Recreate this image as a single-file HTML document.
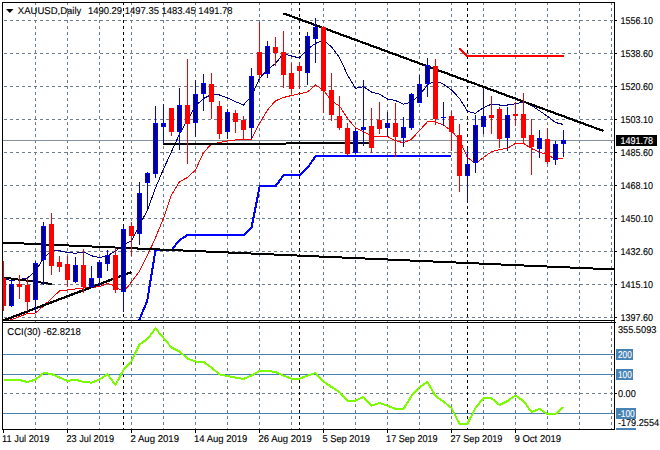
<!DOCTYPE html>
<html><head><meta charset="utf-8"><title>XAUUSD,Daily</title>
<style>
html,body{margin:0;padding:0;background:#fff;}
body{width:660px;height:450px;overflow:hidden;position:relative;font-family:"Liberation Sans",sans-serif;}
svg{position:absolute;left:0;top:0;display:block}
text{font-family:"Liberation Sans",sans-serif;fill:#000}
</style></head><body>
<svg width="660" height="450" viewBox="0 0 660 450">
<rect x="0" y="0" width="660" height="450" fill="#fff"/>

<defs><clipPath id="cm"><rect x="3" y="3" width="611" height="317"/></clipPath><clipPath id="ci"><rect x="3" y="323" width="611" height="106"/></clipPath></defs>
<g shape-rendering="crispEdges" stroke="#6b7d8e" stroke-width="1" stroke-dasharray="3 3" fill="none">
<line x1="4" y1="20.5" x2="614" y2="20.5"/>
<line x1="4" y1="53.5" x2="614" y2="53.5"/>
<line x1="4" y1="86.5" x2="614" y2="86.5"/>
<line x1="4" y1="119.5" x2="614" y2="119.5"/>
<line x1="4" y1="152.5" x2="614" y2="152.5"/>
<line x1="4" y1="185.5" x2="614" y2="185.5"/>
<line x1="4" y1="218.5" x2="614" y2="218.5"/>
<line x1="4" y1="251.5" x2="614" y2="251.5"/>
<line x1="4" y1="284.5" x2="614" y2="284.5"/>
<line x1="4" y1="317.5" x2="614" y2="317.5"/>
<line x1="35.5" y1="2" x2="35.5" y2="430"/>
<line x1="67.5" y1="2" x2="67.5" y2="430"/>
<line x1="99.5" y1="2" x2="99.5" y2="430"/>
<line x1="131.5" y1="2" x2="131.5" y2="430"/>
<line x1="163.5" y1="2" x2="163.5" y2="430"/>
<line x1="195.5" y1="2" x2="195.5" y2="430"/>
<line x1="227.5" y1="2" x2="227.5" y2="430"/>
<line x1="259.5" y1="2" x2="259.5" y2="430"/>
<line x1="291.5" y1="2" x2="291.5" y2="430"/>
<line x1="323.5" y1="2" x2="323.5" y2="430"/>
<line x1="355.5" y1="2" x2="355.5" y2="430"/>
<line x1="387.5" y1="2" x2="387.5" y2="430"/>
<line x1="419.5" y1="2" x2="419.5" y2="430"/>
<line x1="451.5" y1="2" x2="451.5" y2="430"/>
<line x1="483.5" y1="2" x2="483.5" y2="430"/>
<line x1="515.5" y1="2" x2="515.5" y2="430"/>
<line x1="547.5" y1="2" x2="547.5" y2="430"/>
<line x1="579.5" y1="2" x2="579.5" y2="430"/>
<line x1="611.5" y1="2" x2="611.5" y2="430"/>
<line x1="4" y1="393.5" x2="614" y2="393.5"/>
</g>
<g shape-rendering="crispEdges" stroke="#000" stroke-width="1" stroke-dasharray="3 3" fill="none">
<line x1="123.5" y1="2" x2="123.5" y2="430"/>
<line x1="299.5" y1="2" x2="299.5" y2="430"/>
<line x1="467.5" y1="2" x2="467.5" y2="430"/>
</g>
<g clip-path="url(#cm)">
<line x1="3" y1="140.5" x2="614" y2="140.5" stroke="#8391a0" stroke-width="1" shape-rendering="crispEdges"/>
<polyline shape-rendering="crispEdges" fill="none" stroke="#00008b" stroke-width="1" points="3.5,279.0 11.5,280.5 19.5,279.5 27.5,278.0 35.5,271.0 43.5,258.3 51.5,250.5 59.5,250.8 67.5,252.5 75.5,253.3 83.5,252.0 91.5,255.8 99.5,257.5 107.5,255.8 115.5,251.0 123.5,245.0 131.5,240.8 139.5,225.0 147.5,210.0 155.5,188.0 163.5,169.0 171.5,151.7 179.5,134.0 187.5,120.0 195.5,106.0 203.5,98.5 211.5,94.5 219.5,95.0 227.5,98.0 235.5,101.7 243.5,105.0 251.5,96.0 259.5,78.5 267.5,69.5 275.5,63.5 283.5,53.5 291.5,56.0 299.5,58.0 307.5,49.0 315.5,43.5 323.5,40.0 331.5,47.0 339.5,57.5 347.5,75.0 355.5,88.3 363.5,86.7 371.5,92.0 379.5,94.2 387.5,99.0 395.5,100.5 403.5,104.2 411.5,102.0 419.5,95.0 427.5,85.0 435.5,80.8 443.5,84.2 451.5,90.0 459.5,98.3 467.5,111.3 475.5,113.3 483.5,107.5 491.5,104.2 499.5,105.0 507.5,105.0 515.5,103.8 523.5,102.0 531.5,105.5 539.5,110.8 547.5,116.3 555.5,122.5 563.5,124.5"/>
<polyline shape-rendering="crispEdges" fill="none" stroke="#ff0000" stroke-width="1" points="10.5,320 11.5,319.6 19.5,316.5 27.5,313.5 35.5,313.0 43.5,306.0 51.5,298.5 59.5,291.0 67.5,290.0 75.5,289.0 83.5,287.9 91.5,287.3 99.5,286.8 107.5,283.3 115.5,286.3 123.5,292.0 131.5,282.0 139.5,271.0 147.5,255.4 155.5,237.7 163.5,218.3 171.5,195.0 179.5,181.7 187.5,177.5 195.5,170.0 203.5,152.5 211.5,144.0 219.5,142.5 227.5,141.0 235.5,140.0 243.5,139.5 251.5,139.2 259.5,123.3 267.5,110.0 275.5,100.8 283.5,97.5 291.5,95.5 299.5,93.7 307.5,92.0 315.5,85.0 323.5,90.0 331.5,101.0 339.5,106.0 347.5,118.4 355.5,127.8 363.5,131.7 371.5,136.0 379.5,136.5 387.5,136.5 395.5,140.7 403.5,142.8 411.5,139.2 419.5,130.5 427.5,121.7 435.5,122.0 443.5,125.0 451.5,130.8 459.5,140.0 467.5,157.5 475.5,163.3 483.5,157.5 491.5,151.7 499.5,149.7 507.5,148.3 515.5,143.3 523.5,143.3 531.5,148.5 539.5,152.2 547.5,154.7 555.5,159.2 563.5,158.0"/>
<polyline shape-rendering="crispEdges" fill="none" stroke="#0000ff" stroke-width="2.1" stroke-linejoin="round" points="139.0,320.5 147.2,301.0 155.5,250.0 163.7,250.0 171.7,250.0 179.2,240.3 187.7,235.0 243.7,235.0 251.7,227.0 259.7,186.0 275.7,186.0 283.7,175.0 299.7,175.0 307.7,167.6 315.7,156.0 451.2,156.0"/>
<polyline shape-rendering="crispEdges" fill="none" stroke="#ff0000" stroke-width="2.1" stroke-linejoin="miter" points="459.7,48.3 467.2,55.9 564,55.9"/>
<g shape-rendering="crispEdges" stroke="#000" fill="none" stroke-linecap="butt">
<line stroke-width="2" x1="3" y1="242.6" x2="614" y2="269.45"/>
<line stroke-width="2.3" x1="2" y1="321.0" x2="131.6" y2="272.0"/>
<line stroke-width="2" x1="3" y1="277.5" x2="52" y2="284"/>
<line stroke-width="2" x1="163.3" y1="144.4" x2="370" y2="142.9"/>
<line stroke-width="2.2" x1="283.3" y1="13.3" x2="603.5" y2="131"/>
</g>
<g shape-rendering="crispEdges">
<rect x="3" y="261" width="1" height="50" fill="#ff0000"/>
<rect x="1" y="278" width="5" height="28" fill="#ff0000"/>
<rect x="11" y="280" width="1" height="27" fill="#0000ff"/>
<rect x="9" y="284" width="5" height="22" fill="#0000ff"/>
<rect x="10" y="285" width="3" height="20" fill="#00008f"/>
<rect x="19" y="275" width="1" height="24" fill="#ff0000"/>
<rect x="17" y="284" width="5" height="3" fill="#ff0000"/>
<rect x="27" y="278" width="1" height="33" fill="#ff0000"/>
<rect x="25" y="285" width="5" height="17" fill="#ff0000"/>
<rect x="35" y="261" width="1" height="52" fill="#0000ff"/>
<rect x="33" y="263" width="5" height="37" fill="#0000ff"/>
<rect x="34" y="264" width="3" height="35" fill="#00008f"/>
<rect x="43" y="222" width="1" height="63" fill="#0000ff"/>
<rect x="41" y="226" width="5" height="34" fill="#0000ff"/>
<rect x="42" y="227" width="3" height="32" fill="#00008f"/>
<rect x="51" y="213" width="1" height="62" fill="#ff0000"/>
<rect x="49" y="224" width="5" height="42" fill="#ff0000"/>
<rect x="59" y="256" width="1" height="16" fill="#ff0000"/>
<rect x="57" y="262" width="5" height="5" fill="#ff0000"/>
<rect x="67" y="256" width="1" height="31" fill="#ff0000"/>
<rect x="65" y="264" width="5" height="16" fill="#ff0000"/>
<rect x="75" y="257" width="1" height="26" fill="#0000ff"/>
<rect x="73" y="265" width="5" height="17" fill="#0000ff"/>
<rect x="74" y="266" width="3" height="15" fill="#00008f"/>
<rect x="83" y="249" width="1" height="44" fill="#ff0000"/>
<rect x="81" y="265" width="5" height="22" fill="#ff0000"/>
<rect x="91" y="266" width="1" height="22" fill="#0000ff"/>
<rect x="89" y="278" width="5" height="9" fill="#0000ff"/>
<rect x="90" y="279" width="3" height="7" fill="#00008f"/>
<rect x="99" y="260" width="1" height="26" fill="#0000ff"/>
<rect x="97" y="262" width="5" height="16" fill="#0000ff"/>
<rect x="98" y="263" width="3" height="14" fill="#00008f"/>
<rect x="107" y="250" width="1" height="21" fill="#0000ff"/>
<rect x="105" y="255" width="5" height="9" fill="#0000ff"/>
<rect x="106" y="256" width="3" height="7" fill="#00008f"/>
<rect x="115" y="248" width="1" height="45" fill="#ff0000"/>
<rect x="113" y="255" width="5" height="35" fill="#ff0000"/>
<rect x="123" y="226" width="1" height="86" fill="#0000ff"/>
<rect x="121" y="229" width="5" height="63" fill="#0000ff"/>
<rect x="122" y="230" width="3" height="61" fill="#00008f"/>
<rect x="131" y="222" width="1" height="34" fill="#ff0000"/>
<rect x="129" y="226" width="5" height="10" fill="#ff0000"/>
<rect x="139" y="182" width="1" height="63" fill="#0000ff"/>
<rect x="137" y="193" width="5" height="41" fill="#0000ff"/>
<rect x="138" y="194" width="3" height="39" fill="#00008f"/>
<rect x="147" y="172" width="1" height="36" fill="#0000ff"/>
<rect x="145" y="173" width="5" height="10" fill="#0000ff"/>
<rect x="146" y="174" width="3" height="8" fill="#00008f"/>
<rect x="155" y="106" width="1" height="72" fill="#0000ff"/>
<rect x="153" y="123" width="5" height="51" fill="#0000ff"/>
<rect x="154" y="124" width="3" height="49" fill="#00008f"/>
<rect x="163" y="104" width="1" height="40" fill="#0000ff"/>
<rect x="161" y="123" width="5" height="4" fill="#0000ff"/>
<rect x="162" y="124" width="3" height="2" fill="#00008f"/>
<rect x="171" y="108" width="1" height="28" fill="#ff0000"/>
<rect x="169" y="108" width="5" height="24" fill="#ff0000"/>
<rect x="179" y="88" width="1" height="62" fill="#0000ff"/>
<rect x="177" y="105" width="5" height="27" fill="#0000ff"/>
<rect x="178" y="106" width="3" height="25" fill="#00008f"/>
<rect x="187" y="59" width="1" height="105" fill="#ff0000"/>
<rect x="185" y="105" width="5" height="19" fill="#ff0000"/>
<rect x="195" y="80" width="1" height="57" fill="#0000ff"/>
<rect x="193" y="94" width="5" height="29" fill="#0000ff"/>
<rect x="194" y="95" width="3" height="27" fill="#00008f"/>
<rect x="203" y="74" width="1" height="37" fill="#0000ff"/>
<rect x="201" y="83" width="5" height="11" fill="#0000ff"/>
<rect x="202" y="84" width="3" height="9" fill="#00008f"/>
<rect x="211" y="73" width="1" height="46" fill="#ff0000"/>
<rect x="209" y="84" width="5" height="18" fill="#ff0000"/>
<rect x="219" y="101" width="1" height="38" fill="#ff0000"/>
<rect x="217" y="106" width="5" height="28" fill="#ff0000"/>
<rect x="227" y="109" width="1" height="30" fill="#0000ff"/>
<rect x="225" y="112" width="5" height="20" fill="#0000ff"/>
<rect x="226" y="113" width="3" height="18" fill="#00008f"/>
<rect x="235" y="110" width="1" height="23" fill="#ff0000"/>
<rect x="233" y="113" width="5" height="9" fill="#ff0000"/>
<rect x="243" y="116" width="1" height="23" fill="#ff0000"/>
<rect x="241" y="120" width="5" height="10" fill="#ff0000"/>
<rect x="251" y="68" width="1" height="71" fill="#0000ff"/>
<rect x="249" y="76" width="5" height="52" fill="#0000ff"/>
<rect x="250" y="77" width="3" height="50" fill="#00008f"/>
<rect x="259" y="22" width="1" height="57" fill="#ff0000"/>
<rect x="257" y="52" width="5" height="23" fill="#ff0000"/>
<rect x="267" y="41" width="1" height="37" fill="#0000ff"/>
<rect x="265" y="46" width="5" height="28" fill="#0000ff"/>
<rect x="266" y="47" width="3" height="26" fill="#00008f"/>
<rect x="275" y="37" width="1" height="29" fill="#ff0000"/>
<rect x="273" y="47" width="5" height="6" fill="#ff0000"/>
<rect x="283" y="31" width="1" height="57" fill="#ff0000"/>
<rect x="281" y="52" width="5" height="23" fill="#ff0000"/>
<rect x="291" y="63" width="1" height="31" fill="#ff0000"/>
<rect x="289" y="73" width="5" height="16" fill="#ff0000"/>
<rect x="299" y="62" width="1" height="27" fill="#ff0000"/>
<rect x="297" y="66" width="5" height="5" fill="#ff0000"/>
<rect x="307" y="32" width="1" height="53" fill="#0000ff"/>
<rect x="305" y="36" width="5" height="37" fill="#0000ff"/>
<rect x="306" y="37" width="3" height="35" fill="#00008f"/>
<rect x="315" y="18" width="1" height="45" fill="#0000ff"/>
<rect x="313" y="27" width="5" height="12" fill="#0000ff"/>
<rect x="314" y="28" width="3" height="10" fill="#00008f"/>
<rect x="323" y="26" width="1" height="87" fill="#ff0000"/>
<rect x="321" y="27" width="5" height="64" fill="#ff0000"/>
<rect x="331" y="73" width="1" height="48" fill="#ff0000"/>
<rect x="329" y="90" width="5" height="25" fill="#ff0000"/>
<rect x="339" y="96" width="1" height="34" fill="#ff0000"/>
<rect x="337" y="116" width="5" height="12" fill="#ff0000"/>
<rect x="347" y="123" width="1" height="32" fill="#ff0000"/>
<rect x="345" y="128" width="5" height="26" fill="#ff0000"/>
<rect x="355" y="128" width="1" height="26" fill="#0000ff"/>
<rect x="353" y="131" width="5" height="22" fill="#0000ff"/>
<rect x="354" y="132" width="3" height="20" fill="#00008f"/>
<rect x="363" y="80" width="1" height="66" fill="#0000ff"/>
<rect x="361" y="127" width="5" height="3" fill="#0000ff"/>
<rect x="362" y="128" width="3" height="1" fill="#00008f"/>
<rect x="371" y="108" width="1" height="45" fill="#ff0000"/>
<rect x="369" y="126" width="5" height="22" fill="#ff0000"/>
<rect x="379" y="102" width="1" height="32" fill="#ff0000"/>
<rect x="377" y="120" width="5" height="9" fill="#ff0000"/>
<rect x="387" y="112" width="1" height="25" fill="#0000ff"/>
<rect x="385" y="123" width="5" height="5" fill="#0000ff"/>
<rect x="386" y="124" width="3" height="3" fill="#00008f"/>
<rect x="395" y="103" width="1" height="54" fill="#ff0000"/>
<rect x="393" y="123" width="5" height="14" fill="#ff0000"/>
<rect x="403" y="117" width="1" height="30" fill="#0000ff"/>
<rect x="401" y="127" width="5" height="11" fill="#0000ff"/>
<rect x="402" y="128" width="3" height="9" fill="#00008f"/>
<rect x="411" y="93" width="1" height="37" fill="#0000ff"/>
<rect x="409" y="94" width="5" height="34" fill="#0000ff"/>
<rect x="410" y="95" width="3" height="32" fill="#00008f"/>
<rect x="419" y="75" width="1" height="28" fill="#0000ff"/>
<rect x="417" y="84" width="5" height="19" fill="#0000ff"/>
<rect x="418" y="85" width="3" height="17" fill="#00008f"/>
<rect x="427" y="58" width="1" height="39" fill="#0000ff"/>
<rect x="425" y="65" width="5" height="19" fill="#0000ff"/>
<rect x="426" y="66" width="3" height="17" fill="#00008f"/>
<rect x="435" y="59" width="1" height="66" fill="#ff0000"/>
<rect x="433" y="66" width="5" height="53" fill="#ff0000"/>
<rect x="443" y="102" width="1" height="24" fill="#0000ff"/>
<rect x="441" y="117" width="5" height="1" fill="#0000ff"/>
<rect x="451" y="111" width="1" height="40" fill="#ff0000"/>
<rect x="449" y="116" width="5" height="16" fill="#ff0000"/>
<rect x="459" y="124" width="1" height="68" fill="#ff0000"/>
<rect x="457" y="135" width="5" height="41" fill="#ff0000"/>
<rect x="467" y="148" width="1" height="55" fill="#0000ff"/>
<rect x="465" y="164" width="5" height="12" fill="#0000ff"/>
<rect x="466" y="165" width="3" height="10" fill="#00008f"/>
<rect x="475" y="115" width="1" height="58" fill="#0000ff"/>
<rect x="473" y="125" width="5" height="38" fill="#0000ff"/>
<rect x="474" y="126" width="3" height="36" fill="#00008f"/>
<rect x="483" y="88" width="1" height="46" fill="#0000ff"/>
<rect x="481" y="116" width="5" height="11" fill="#0000ff"/>
<rect x="482" y="117" width="3" height="9" fill="#00008f"/>
<rect x="491" y="96" width="1" height="38" fill="#ff0000"/>
<rect x="489" y="115" width="5" height="3" fill="#ff0000"/>
<rect x="499" y="107" width="1" height="41" fill="#ff0000"/>
<rect x="497" y="109" width="5" height="30" fill="#ff0000"/>
<rect x="507" y="107" width="1" height="44" fill="#0000ff"/>
<rect x="505" y="115" width="5" height="23" fill="#0000ff"/>
<rect x="506" y="116" width="3" height="21" fill="#00008f"/>
<rect x="515" y="102" width="1" height="24" fill="#ff0000"/>
<rect x="513" y="114" width="5" height="2" fill="#ff0000"/>
<rect x="523" y="93" width="1" height="51" fill="#ff0000"/>
<rect x="521" y="114" width="5" height="24" fill="#ff0000"/>
<rect x="531" y="119" width="1" height="56" fill="#ff0000"/>
<rect x="529" y="135" width="5" height="12" fill="#ff0000"/>
<rect x="539" y="130" width="1" height="28" fill="#0000ff"/>
<rect x="537" y="138" width="5" height="11" fill="#0000ff"/>
<rect x="538" y="139" width="3" height="9" fill="#00008f"/>
<rect x="547" y="128" width="1" height="36" fill="#ff0000"/>
<rect x="545" y="139" width="5" height="23" fill="#ff0000"/>
<rect x="555" y="141" width="1" height="24" fill="#0000ff"/>
<rect x="553" y="144" width="5" height="16" fill="#0000ff"/>
<rect x="554" y="145" width="3" height="14" fill="#00008f"/>
<rect x="563" y="130" width="1" height="27" fill="#0000ff"/>
<rect x="561" y="140" width="5" height="4" fill="#0000ff"/>
<rect x="562" y="141" width="3" height="2" fill="#00008f"/>
</g>
</g>
<g clip-path="url(#ci)">
<g shape-rendering="crispEdges" stroke="#4682b4" stroke-width="1">
<line x1="3" y1="354.5" x2="614" y2="354.5"/>
<line x1="3" y1="374.5" x2="614" y2="374.5"/>
<line x1="3" y1="413.5" x2="614" y2="413.5"/>
</g>
<polyline shape-rendering="crispEdges" fill="none" stroke="#7cfc00" stroke-width="2.0" stroke-linejoin="round" points="3.5,380.0 11.5,380.0 19.5,380.0 27.5,382.0 35.5,379.6 43.5,373.0 51.5,374.0 59.5,377.5 67.5,381.0 75.5,379.6 83.5,382.0 91.5,382.6 99.5,379.5 107.5,374.4 115.5,385.0 123.5,370.0 131.5,361.0 139.5,344.4 147.5,339.0 155.5,328.4 163.5,338.0 171.5,347.5 179.5,351.5 187.5,358.5 195.5,361.5 203.5,362.0 211.5,367.6 219.5,374.4 227.5,376.0 235.5,377.6 243.5,379.0 251.5,375.5 259.5,371.0 267.5,371.0 275.5,372.0 283.5,375.6 291.5,378.6 299.5,378.6 307.5,375.6 315.5,373.0 323.5,381.6 331.5,387.0 339.5,392.0 347.5,400.6 355.5,400.6 363.5,397.0 371.5,405.6 379.5,403.0 387.5,405.6 395.5,409.0 403.5,409.0 411.5,396.0 419.5,387.0 427.5,382.0 435.5,396.0 443.5,401.6 451.5,408.0 459.5,423.6 467.5,423.6 475.5,408.0 483.5,398.0 491.5,398.2 499.5,405.0 507.5,401.0 515.5,395.6 523.5,401.0 531.5,412.0 539.5,409.0 547.5,414.0 555.5,414.0 563.5,407.0"/>
</g>
<g shape-rendering="crispEdges" fill="#000">
<rect x="2" y="2" width="613" height="1"/>
<rect x="2" y="2" width="1" height="428"/>
<rect x="614" y="2" width="1" height="428"/>
<rect x="2" y="320" width="613" height="1"/>
<rect x="2" y="322" width="613" height="1"/>
<rect x="2" y="429" width="613" height="1"/>
<rect x="615" y="20" width="2" height="1"/>
<rect x="615" y="53" width="2" height="1"/>
<rect x="615" y="86" width="2" height="1"/>
<rect x="615" y="119" width="2" height="1"/>
<rect x="615" y="152" width="2" height="1"/>
<rect x="615" y="185" width="2" height="1"/>
<rect x="615" y="218" width="2" height="1"/>
<rect x="615" y="251" width="2" height="1"/>
<rect x="615" y="284" width="2" height="1"/>
<rect x="615" y="317" width="2" height="1"/>
<rect x="615" y="322" width="1" height="1"/>
<rect x="615" y="393" width="2" height="1"/>
<rect x="3" y="430" width="1" height="3"/>
<rect x="67" y="430" width="1" height="3"/>
<rect x="131" y="430" width="1" height="3"/>
<rect x="195" y="430" width="1" height="3"/>
<rect x="259" y="430" width="1" height="3"/>
<rect x="323" y="430" width="1" height="3"/>
<rect x="387" y="430" width="1" height="3"/>
<rect x="451" y="430" width="1" height="3"/>
<rect x="515" y="430" width="1" height="3"/>
</g>
<text text-rendering="geometricPrecision" transform="translate(620.40,24.00) scale(0.9112,1)" font-size="9.90" fill="#000" style="fill:#000" stroke="#000" stroke-width="0.12">1556.10</text>
<text text-rendering="geometricPrecision" transform="translate(620.40,57.00) scale(0.9112,1)" font-size="9.90" fill="#000" style="fill:#000" stroke="#000" stroke-width="0.12">1538.60</text>
<text text-rendering="geometricPrecision" transform="translate(620.40,90.00) scale(0.9112,1)" font-size="9.90" fill="#000" style="fill:#000" stroke="#000" stroke-width="0.12">1520.60</text>
<text text-rendering="geometricPrecision" transform="translate(620.40,123.00) scale(0.9112,1)" font-size="9.90" fill="#000" style="fill:#000" stroke="#000" stroke-width="0.12">1503.10</text>
<text text-rendering="geometricPrecision" transform="translate(620.40,156.00) scale(0.9112,1)" font-size="9.90" fill="#000" style="fill:#000" stroke="#000" stroke-width="0.12">1485.60</text>
<text text-rendering="geometricPrecision" transform="translate(620.40,189.00) scale(0.9112,1)" font-size="9.90" fill="#000" style="fill:#000" stroke="#000" stroke-width="0.12">1468.10</text>
<text text-rendering="geometricPrecision" transform="translate(620.40,222.00) scale(0.9112,1)" font-size="9.90" fill="#000" style="fill:#000" stroke="#000" stroke-width="0.12">1450.10</text>
<text text-rendering="geometricPrecision" transform="translate(620.40,255.00) scale(0.9112,1)" font-size="9.90" fill="#000" style="fill:#000" stroke="#000" stroke-width="0.12">1432.60</text>
<text text-rendering="geometricPrecision" transform="translate(620.40,288.00) scale(0.9112,1)" font-size="9.90" fill="#000" style="fill:#000" stroke="#000" stroke-width="0.12">1415.10</text>
<text text-rendering="geometricPrecision" transform="translate(620.40,321.00) scale(0.9112,1)" font-size="9.90" fill="#000" style="fill:#000" stroke="#000" stroke-width="0.12">1397.60</text>
<rect x="616" y="135" width="41" height="11" fill="#000" shape-rendering="crispEdges"/>
<text text-rendering="geometricPrecision" transform="translate(620.40,144.00) scale(0.9112,1)" font-size="9.90" fill="#fff" style="fill:#fff" stroke="#fff" stroke-width="0.12">1491.78</text>
<text text-rendering="geometricPrecision" transform="translate(617.90,333.10) scale(0.9350,1)" font-size="9.90" fill="#000" style="fill:#000" stroke="#000" stroke-width="0.12">355.5093</text>
<rect x="616" y="349" width="17" height="11" fill="#4682b4" shape-rendering="crispEdges"/>
<text text-rendering="geometricPrecision" transform="translate(617.90,357.90) scale(0.8418,1)" font-size="9.90" fill="#fff" style="fill:#fff" stroke="#fff" stroke-width="0.12">200</text>
<rect x="616" y="369" width="17" height="11" fill="#4682b4" shape-rendering="crispEdges"/>
<text text-rendering="geometricPrecision" transform="translate(617.90,377.90) scale(0.8418,1)" font-size="9.90" fill="#fff" style="fill:#fff" stroke="#fff" stroke-width="0.12">100</text>
<text text-rendering="geometricPrecision" transform="translate(617.90,397.00) scale(0.9291,1)" font-size="9.90" fill="#000" style="fill:#000" stroke="#000" stroke-width="0.12">0.00</text>
<rect x="616" y="408" width="20" height="11" fill="#4682b4" shape-rendering="crispEdges"/>
<text text-rendering="geometricPrecision" transform="translate(617.90,416.90) scale(0.8531,1)" font-size="9.90" fill="#fff" style="fill:#fff" stroke="#fff" stroke-width="0.12">-100</text>
<rect x="616" y="428" width="20" height="2" fill="#4682b4" shape-rendering="crispEdges"/>
<rect x="616" y="419" width="44" height="9" fill="#fff" shape-rendering="crispEdges"/>
<text text-rendering="geometricPrecision" transform="translate(617.90,426.20) scale(0.9264,1)" font-size="9.90" fill="#000" style="fill:#000" stroke="#000" stroke-width="0.12">-179.2554</text>
<path d="M6 9 L13.5 9 L9.75 13 Z" fill="#000"/>
<text text-rendering="geometricPrecision" transform="translate(17.80,14.00) scale(0.9650,1)" font-size="9.90" fill="#000" style="fill:#000" stroke="#000" stroke-width="0.12">XAUUSD,Daily</text>
<text text-rendering="geometricPrecision" transform="translate(87.90,14.00) scale(0.9580,1)" font-size="9.90" fill="#000" style="fill:#000" stroke="#000" stroke-width="0.12">1490.29 1497.35 1483.45 1491.78</text>
<rect x="3" y="323" width="79" height="14" fill="#fff" shape-rendering="crispEdges"/>
<text text-rendering="geometricPrecision" transform="translate(7.30,335.10) scale(0.9650,1)" font-size="9.90" fill="#000" style="fill:#000" stroke="#000" stroke-width="0.12">CCI(30) -62.8218</text>
<text text-rendering="geometricPrecision" x="2.10" y="442" font-size="9.90" textLength="47.2" lengthAdjust="spacingAndGlyphs" stroke="#000" stroke-width="0.12">11 Jul 2019</text>
<text text-rendering="geometricPrecision" x="66.50" y="442" font-size="9.90" textLength="47.5" lengthAdjust="spacingAndGlyphs" stroke="#000" stroke-width="0.12">23 Jul 2019</text>
<text text-rendering="geometricPrecision" x="130.50" y="442" font-size="9.90" textLength="48.5" lengthAdjust="spacingAndGlyphs" stroke="#000" stroke-width="0.12">2 Aug 2019</text>
<text text-rendering="geometricPrecision" x="194.10" y="442" font-size="9.90" textLength="53.3" lengthAdjust="spacingAndGlyphs" stroke="#000" stroke-width="0.12">14 Aug 2019</text>
<text text-rendering="geometricPrecision" x="258.50" y="442" font-size="9.90" textLength="53.3" lengthAdjust="spacingAndGlyphs" stroke="#000" stroke-width="0.12">26 Aug 2019</text>
<text text-rendering="geometricPrecision" x="322.50" y="442" font-size="9.90" textLength="47.5" lengthAdjust="spacingAndGlyphs" stroke="#000" stroke-width="0.12">5 Sep 2019</text>
<text text-rendering="geometricPrecision" x="386.10" y="442" font-size="9.90" textLength="51.5" lengthAdjust="spacingAndGlyphs" stroke="#000" stroke-width="0.12">17 Sep 2019</text>
<text text-rendering="geometricPrecision" x="450.50" y="442" font-size="9.90" textLength="51.9" lengthAdjust="spacingAndGlyphs" stroke="#000" stroke-width="0.12">27 Sep 2019</text>
<text text-rendering="geometricPrecision" x="514.50" y="442" font-size="9.90" textLength="46.6" lengthAdjust="spacingAndGlyphs" stroke="#000" stroke-width="0.12">9 Oct 2019</text>
</svg></body></html>
